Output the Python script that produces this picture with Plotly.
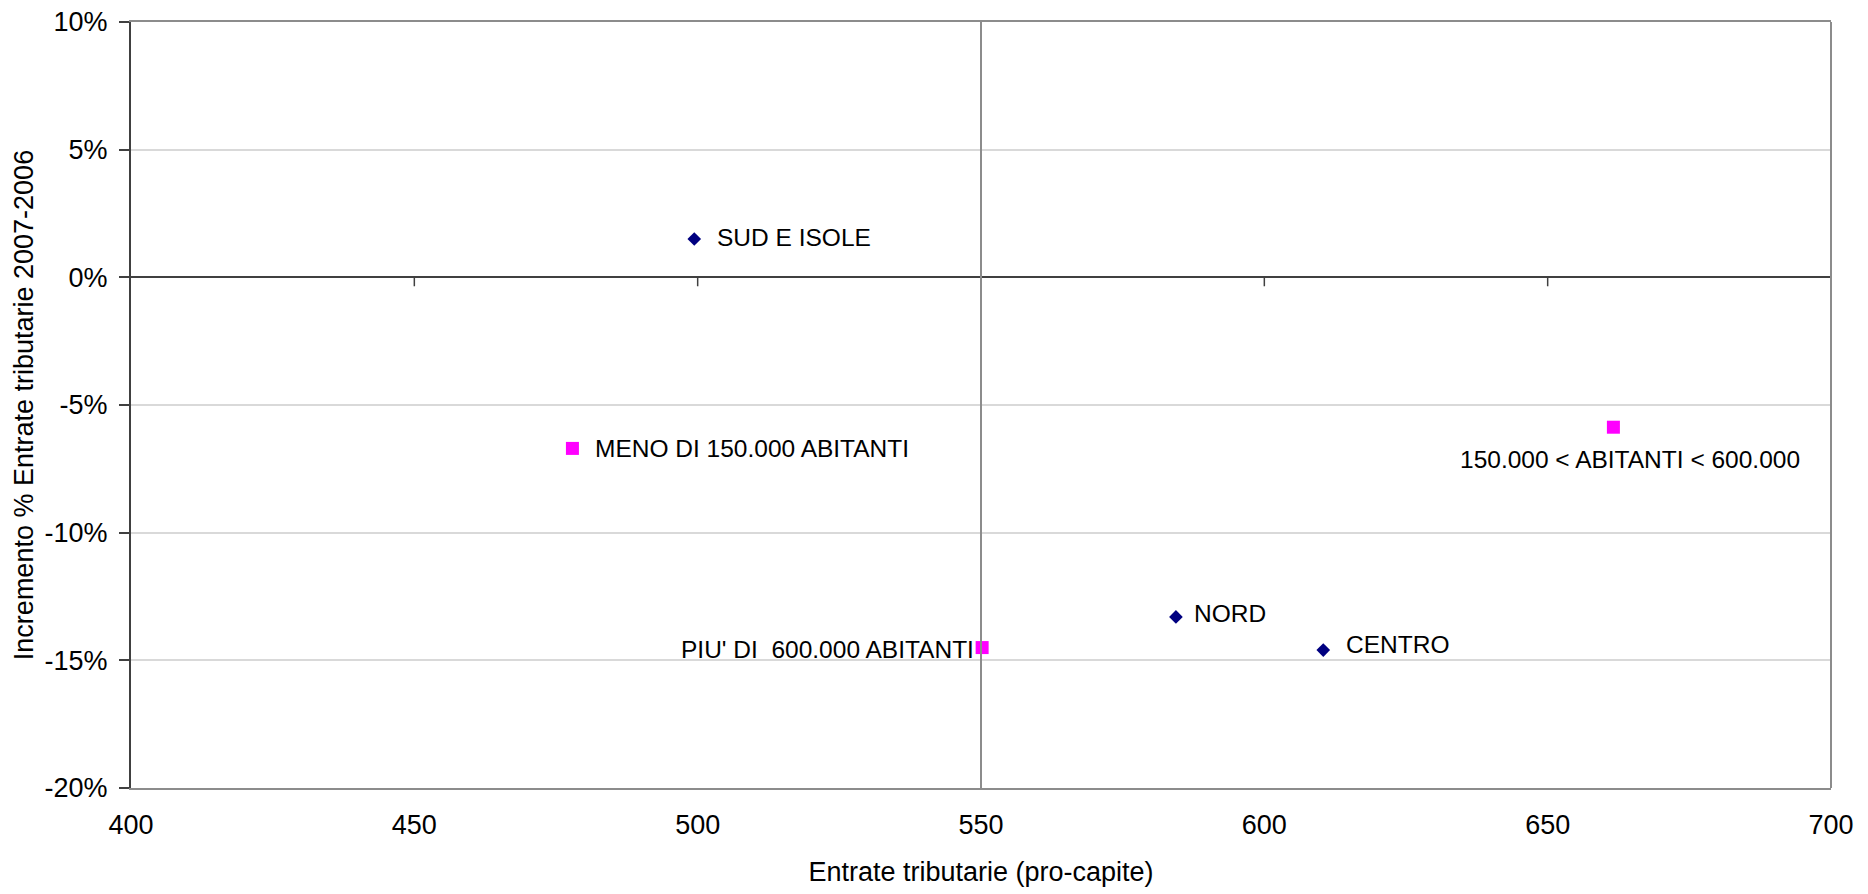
import plotly.graph_objects as go

# ---- data ----
region_names = ["NORD", "CENTRO", "SUD E ISOLE"]
region_x = [584.4, 610.4, 499.4]
region_y = [-0.133, -0.146, 0.015]

size_names = ["MENO DI 150.000 ABITANTI", "150.000 &lt; ABITANTI &lt; 600.000", "PIU' DI\u00a0 600.000 ABITANTI"]
size_x = [477.9, 661.6, 550.2]
size_y = [-0.067, -0.0587, -0.145]

x_tickvals = [400, 450, 500, 550, 600, 650, 700]
y_tickvals = [0.10, 0.05, 0.0, -0.05, -0.10, -0.15, -0.20]
y_ticktext = ["10%", "5%", "0%", "-5%", "-10%", "-15%", "-20%"]

x_title = "Entrate tributarie (pro-capite)"
y_title = "Incremento % Entrate tributarie 2007-2006"

# label placement (pixel offsets)
region_label_style = [dict(xanchor="left", xshift=16, yshift=3),
                      dict(xanchor="left", xshift=21, yshift=6),
                      dict(xanchor="left", xshift=21, yshift=2)]
size_label_style = [dict(xanchor="left", xshift=21, yshift=0),
                    dict(xanchor="center", xshift=17, yshift=-32),
                    dict(xanchor="right", xshift=-6, yshift=-2)]

FONT = "Arial, 'Liberation Sans', sans-serif"
DARK = "#404040"
GRAY = "#8c8c8c"

fig = go.Figure()

# x tick marks sitting on the zero line
tick_len = 0.0035
tx, ty = [], []
for v in x_tickvals[1:-1]:
    tx += [v, v, None]
    ty += [0, -tick_len, None]
fig.add_trace(go.Scatter(x=tx, y=ty, mode="lines", line=dict(color=DARK, width=1.5),
                         hoverinfo="skip", showlegend=False))

fig.add_trace(go.Scatter(x=region_x, y=region_y, mode="markers", name="Aree",
                         marker=dict(symbol="diamond", size=10.5, color="#000080",
                                     line=dict(width=0)), showlegend=False))
fig.add_trace(go.Scatter(x=size_x, y=size_y, mode="markers", name="Classi",
                         marker=dict(symbol="square", size=13, color="#FF00FF",
                                     line=dict(width=0)), showlegend=False))

for name, x, y, st in zip(region_names, region_x, region_y, region_label_style):
    fig.add_annotation(x=x, y=y, text=name, showarrow=False, yanchor="middle",
                       font=dict(family=FONT, size=24.5, color="black"), **st)
for name, x, y, st in zip(size_names, size_x, size_y, size_label_style):
    fig.add_annotation(x=x, y=y, text=name, showarrow=False, yanchor="middle",
                       font=dict(family=FONT, size=24.5, color="black"), **st)

# vertical reference line at 550
fig.add_shape(type="line", x0=550, x1=550, xref="x", y0=0, y1=1, yref="paper",
              line=dict(color=GRAY, width=2), layer="above")
# right border
fig.add_shape(type="line", x0=1, x1=1, xref="paper", y0=0, y1=1, yref="paper",
              line=dict(color=GRAY, width=2), layer="above")

fig.update_layout(
    width=1868, height=894,
    margin=dict(l=123, r=45, t=14, b=114, autoexpand=False),
    plot_bgcolor="white", paper_bgcolor="white",
    font=dict(family=FONT, size=27, color="black"),
    showlegend=False,
)
fig.update_xaxes(
    range=[400, 700], tickvals=x_tickvals, showgrid=False, zeroline=False,
    showline=True, linecolor=GRAY, linewidth=2, mirror=True,
    ticks="", ticklabelstandoff=12, ticklabeloverflow="allow",
    tickfont=dict(family=FONT, size=27, color="black"),
    title=dict(text=x_title, font=dict(family=FONT, size=27, color="black"), standoff=23),
    automargin=False,
)
fig.update_yaxes(
    range=[-0.20, 0.10], tickvals=y_tickvals, ticktext=y_ticktext,
    showgrid=True, gridcolor="#d9d9d9", gridwidth=1.5,
    zeroline=True, zerolinecolor=DARK, zerolinewidth=2,
    showline=True, linecolor=DARK, linewidth=2,
    ticks="outside", ticklen=10, tickcolor=DARK, tickwidth=1.5,
    ticklabelstandoff=6, ticklabeloverflow="allow",
    tickfont=dict(family=FONT, size=27, color="black"),
    title=dict(text=y_title, font=dict(family=FONT, size=27, color="black"), standoff=3),
    automargin=False,
)

fig.write_html("out.html")
